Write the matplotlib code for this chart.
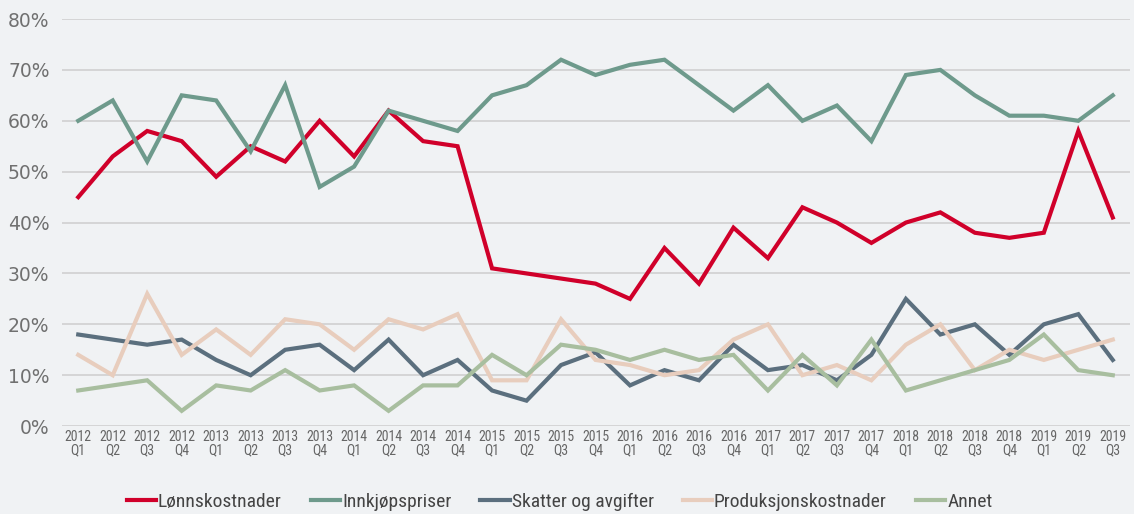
import matplotlib
matplotlib.use("Agg")
import matplotlib.pyplot as plt
from matplotlib import font_manager

quarters = ["2012\nQ1", "2012\nQ2", "2012\nQ3", "2012\nQ4",
            "2013\nQ1", "2013\nQ2", "2013\nQ3", "2013\nQ4",
            "2014\nQ1", "2014\nQ2", "2014\nQ3", "2014\nQ4",
            "2015\nQ1", "2015\nQ2", "2015\nQ3", "2015\nQ4",
            "2016\nQ1", "2016\nQ2", "2016\nQ3", "2016\nQ4",
            "2017\nQ1", "2017\nQ2", "2017\nQ3", "2017\nQ4",
            "2018\nQ1", "2018\nQ2", "2018\nQ3", "2018\nQ4",
            "2019\nQ1", "2019\nQ2", "2019\nQ3"]

lonnskostnader = [45, 53, 58, 56, 49, 55, 52, 60, 53, 62, 56, 55, 31, 30, 29, 28,
                  25, 35, 28, 39, 33, 43, 40, 36, 40, 42, 38, 37, 38, 58, 41]
innkjopspriser = [60, 64, 52, 65, 64, 54, 67, 47, 51, 62, 60, 58, 65, 67, 72, 69,
                  71, 72, 67, 62, 67, 60, 63, 56, 69, 70, 65, 61, 61, 60, 65]
skatter = [18, 17, 16, 17, 13, 10, 15, 16, 11, 17, 10, 13, 7, 5, 12, 14.5,
           8, 11, 9, 16, 11, 12, 9, 14, 25, 18, 20, 14, 20, 22, 13]
produksjon = [14, 10, 26, 14, 19, 14, 21, 20, 15, 21, 19, 22, 9, 9, 21, 13,
              12, 10, 11, 17, 20, 10, 12, 9, 16, 20, 11, 15, 13, 15, 17]
annet = [7, 8, 9, 3, 8, 7, 11, 7, 8, 3, 8, 8, 14, 10, 16, 15,
         13, 15, 13, 14, 7, 14, 8, 17, 7, 9, 11, 13, 18, 11, 10]

series_names = ["Lønnskostnader", "Innkjøpspriser", "Skatter og avgifter",
                "Produksjonskostnader", "Annet"]
series_values = [lonnskostnader, innkjopspriser, skatter, produksjon, annet]
colors = ["#D0002A", "#6E9A8C", "#5B6F7E", "#E8CDBD", "#A8BE9F"]
yticks = [0, 10, 20, 30, 40, 50, 60, 70, 80]

available = {f.name for f in font_manager.fontManager.ttflist}
narrow = "Roboto"
for cand in ["Roboto Condensed", "Archivo Narrow", "PT Sans Narrow",
             "Liberation Sans Narrow", "Barlow Semi Condensed"]:
    if cand in available:
        narrow = cand
        break

bg = "#F0F2F4"
fig = plt.figure(figsize=(11.34, 5.14), dpi=100, facecolor=bg)
ax = fig.add_axes([0.0547, 0.171, 0.9418, 0.792], facecolor=bg)

x = list(range(len(quarters)))
for name, vals, c in zip(series_names, series_values, colors):
    ax.plot(x, vals, color=c, lw=3.0, label=name, solid_joinstyle="miter")

ax.set_xlim(-0.47, 30.5)
ax.set_ylim(0, 80)
ax.set_yticks(yticks)
ax.set_yticklabels([f"{v}%" for v in yticks], fontsize=13.5, color="#707070",
                   family="DejaVu Sans")
ax.set_xticks(x)
ax.set_xticklabels(quarters, fontsize=10, color="#666666", family=narrow,
                   linespacing=0.9)
ax.tick_params(axis="y", length=0, pad=9)
ax.tick_params(axis="x", length=0, pad=3)
ax.grid(axis="y", color="#D0D0D0", lw=1.2)
ax.set_axisbelow(True)
for s in ax.spines.values():
    s.set_visible(False)

fig.legend(loc="center", bbox_to_anchor=(0.4934, 0.023), ncol=5, frameon=False,
           prop={"family": narrow, "size": 14}, labelcolor="#444444",
           handlelength=1.5, handletextpad=0.1, columnspacing=1.5)

fig.savefig("out.png", dpi=100, facecolor=bg)
